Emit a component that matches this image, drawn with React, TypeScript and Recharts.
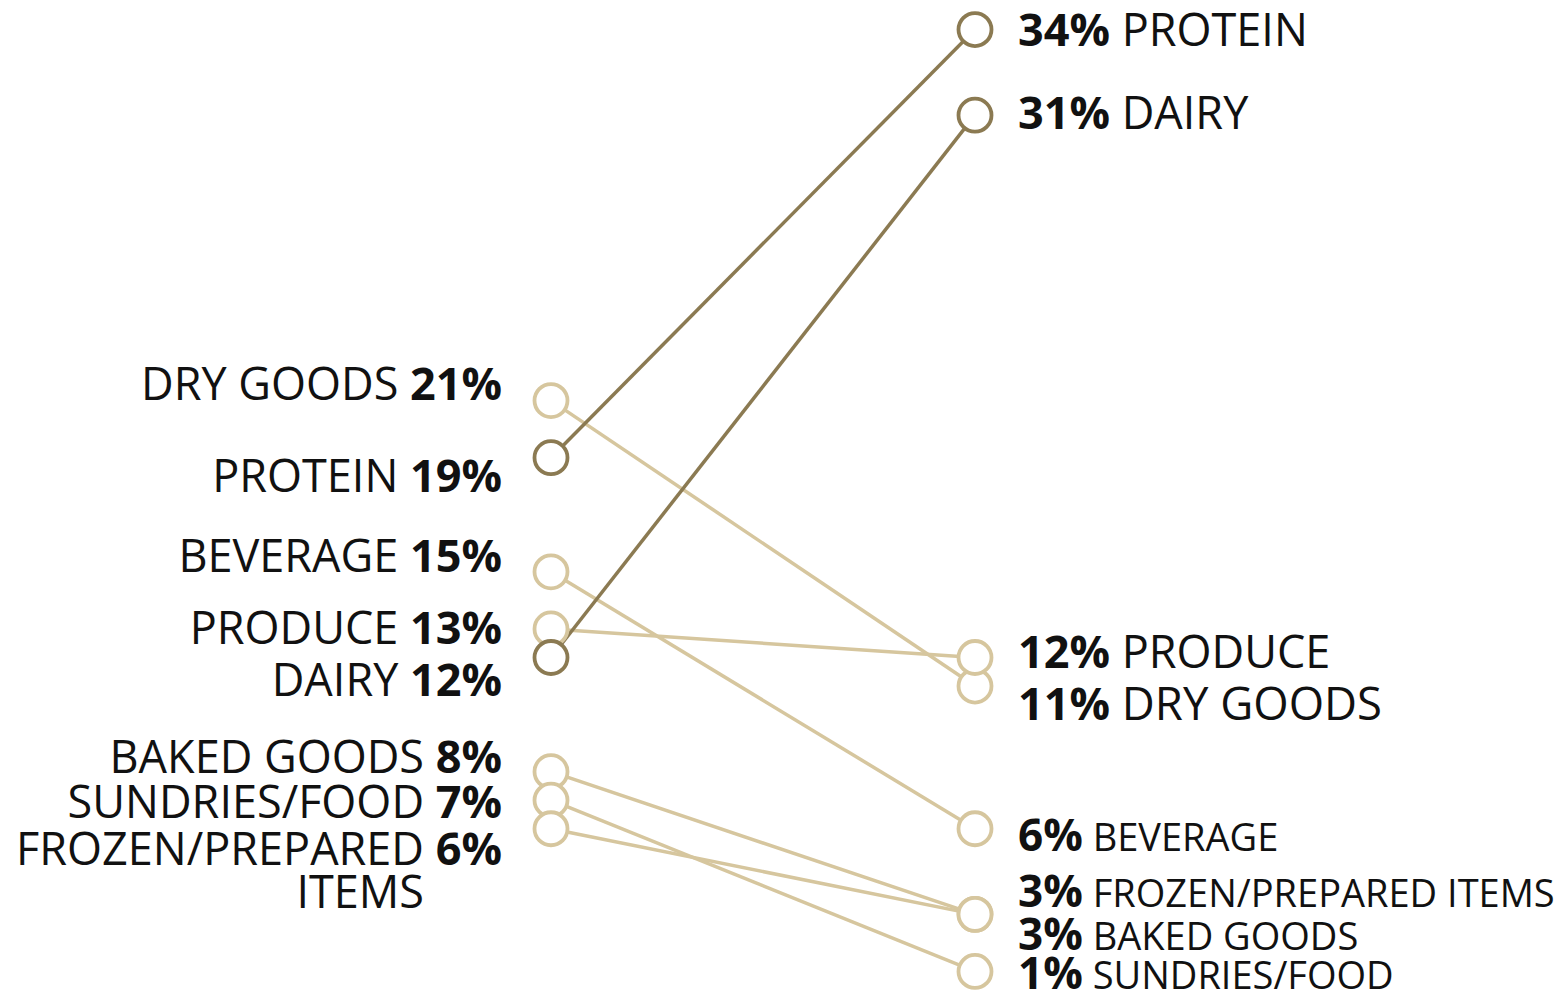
import React from 'react';
import { LineChart, Line, XAxis, YAxis } from 'recharts';

// ---- data ----
const categories = ['DRY GOODS', 'PROTEIN', 'BEVERAGE', 'PRODUCE', 'DAIRY', 'BAKED GOODS', 'SUNDRIES/FOOD', 'FROZEN/PREPARED ITEMS'];
const leftNames = ['DRY GOODS', 'PROTEIN', 'BEVERAGE', 'PRODUCE', 'DAIRY', 'BAKED GOODS', 'SUNDRIES/FOOD', 'FROZEN/PREPARED|ITEMS'];
const beforeValues = [21, 19, 15, 13, 12, 8, 7, 6];
const afterValues = [11, 34, 6, 12, 31, 3, 1, 3];
const positions = [0, 1];

// ---- styles ----
const DARK = '#8b7a52';
const LIGHT = '#d6c69e';
const seriesColor = [LIGHT, DARK, LIGHT, LIGHT, DARK, LIGHT, LIGHT, LIGHT];
const leftDy = [-17, 18, -16, -1, 22, -15, 2, 20];
const rightDy = [18, 0, 9, -6, -2, 22, 4, -21];
const rightNameSize = [45.5, 45, 38, 45, 45, 38, 38, 38];
const rightPctSize = [45, 45, 44, 45, 45, 44, 44, 44];
const LEFT_FONT = 45;
const FONT = '"Open Sans", sans-serif';

const data = positions.map((p, i) => {
  const row: any = { pos: p };
  categories.forEach((c, k) => {
    row[c] = i === 0 ? beforeValues[k] : afterValues[k];
  });
  return row;
});

const makeLabel = (k: number) => (props: any) => {
  const { x, y, index, value } = props;
  if (x == null || y == null) return null;
  if (index === 0) {
    const lines = leftNames[k].split('|');
    const cy = y + leftDy[k] + LEFT_FONT * 0.357;
    return (
      <g key={`l-${k}`}>
        <text x={x - 49} y={cy} textAnchor="end" fontFamily={FONT} fontSize={LEFT_FONT} fill="#111">
          <tspan>{lines[0] + ' '}</tspan>
          <tspan fontWeight={700}>{value + '%'}</tspan>
        </text>
        {lines.length > 1 && (
          <text x={x - 127} y={cy + 43} textAnchor="end" fontFamily={FONT} fontSize={LEFT_FONT} fill="#111">
            {lines[1]}
          </text>
        )}
      </g>
    );
  }
  const cy = y + rightDy[k] + rightNameSize[k] * 0.357;
  return (
    <text key={`r-${k}`} x={x + 43} y={cy} textAnchor="start" fontFamily={FONT} fill="#111">
      <tspan fontWeight={700} fontSize={rightPctSize[k]}>{value + '%'}</tspan>
      <tspan fontSize={rightNameSize[k]}>{' ' + categories[k]}</tspan>
    </text>
  );
};

const order = [0, 2, 3, 5, 6, 7, 1, 4];

export default function App() {
  return (
    <div style={{ position: 'fixed', top: 0, left: 0, width: 1566, height: 997, overflow: 'hidden', background: '#fff' }}>
      <LineChart width={1566} height={1000} data={data} margin={{ top: 1, right: 591, bottom: 0, left: 551 }}>
        <XAxis dataKey="pos" type="number" domain={[0, 1]} hide />
        <YAxis type="number" domain={[0, 35]} hide />
        {order.map((k) => (
          <Line
            key={`line-${k}`}
            dataKey={categories[k]}
            stroke={seriesColor[k]}
            strokeWidth={3.5}
            dot={false}
            activeDot={false}
            isAnimationActive={false}
          />
        ))}
        {order.map((k) => (
          <Line
            key={`dot-${k}`}
            dataKey={categories[k]}
            stroke="none"
            strokeWidth={0}
            dot={{ r: 16.5, fill: '#fff', stroke: seriesColor[k], strokeWidth: 3.8 }}
            activeDot={false}
            isAnimationActive={false}
            label={makeLabel(k)}
          />
        ))}
      </LineChart>
    </div>
  );
}
